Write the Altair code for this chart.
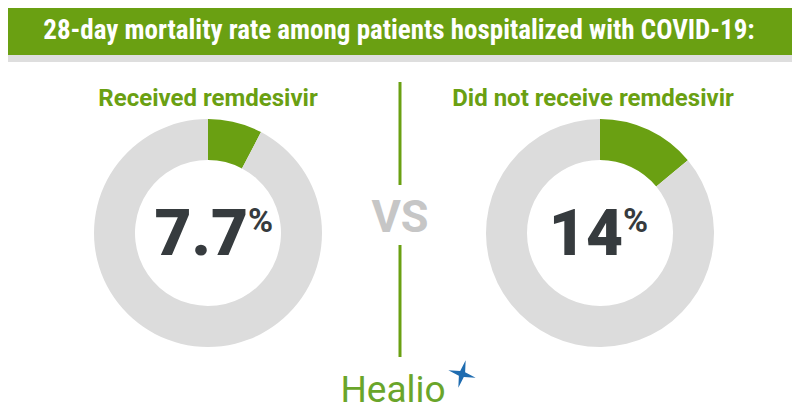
import altair as alt
import pandas as pd

# ---- data ----
header_text = ["28-day mortality rate among patients hospitalized with COVID-19:"]
groups = ["Received remdesivir", "Did not receive remdesivir"]
rates = [7.7, 14.0]
rate_labels = ["7.7", "14"]
parts = ["Died", "Survived"]
vs_label = ["VS"]
brand = ["Healio"]

# ---- layout (reference pixel coords, page margin 8px) ----
W, H = 784, 404
OFF = 8
def px(v):
    return v - OFF

centers_x = [208, 600]
center_y = 233
split_dx = [40, 23]
title_dx = [0, -7]

GREEN = "#6aa012"
RING = "#dcdcdc"
DARK = "#363b3e"
VSGRAY = "#c6c6c6"
BLUE = "#1f6cb0"

rows = []
for g, r in zip(groups, rates):
    rows.append({"group": g, "part": parts[0], "value": r, "ord": 0})
    rows.append({"group": g, "part": parts[1], "value": 100 - r, "ord": 1})
arc_df = pd.DataFrame(rows)

blank = alt.Data(values=[{}])
layers = []

# header band
layers.append(alt.Chart(blank).mark_rect(color=GREEN).encode(
    x=alt.value(0), x2=alt.value(W), y=alt.value(0), y2=alt.value(px(55))))
layers.append(alt.Chart(blank).mark_rect(color="#dedede").encode(
    x=alt.value(0), x2=alt.value(W), y=alt.value(px(55)), y2=alt.value(px(62))))
layers.append(alt.Chart(pd.DataFrame({"t": header_text})).mark_text(
    font="Roboto Condensed, Liberation Sans Narrow, DejaVu Sans Condensed, Roboto",
    fontWeight="bold", fontSize=27, color="white", align="center", baseline="alphabetic"
).encode(x=alt.value(px(399)), y=alt.value(px(39)), text="t:N"))

for i, g in enumerate(groups):
    cx = px(centers_x[i])
    cy = px(center_y)
    layers.append(alt.Chart(arc_df).transform_filter(alt.datum.group == g).mark_arc(
        innerRadius=73, outerRadius=114, stroke=None
    ).encode(
        x=alt.value(cx), y=alt.value(cy),
        theta=alt.Theta("value:Q", stack=True),
        order=alt.Order("ord:Q"),
        color=alt.Color("part:N", scale=alt.Scale(domain=parts, range=[GREEN, RING]), legend=None),
    ))
    layers.append(alt.Chart(pd.DataFrame({"t": [g]})).mark_text(
        font="Roboto", fontWeight="bold", fontSize=24, color=GREEN, align="center", baseline="alphabetic"
    ).encode(x=alt.value(cx + title_dx[i]), y=alt.value(px(106)), text="t:N"))
    layers.append(alt.Chart(pd.DataFrame({"t": [rate_labels[i]]})).mark_text(
        font="Roboto", fontWeight=900, fontSize=64, color=DARK, align="right", baseline="alphabetic"
    ).encode(x=alt.value(cx + split_dx[i]), y=alt.value(px(255)), text="t:N"))
    layers.append(alt.Chart(pd.DataFrame({"t": ["%"]})).mark_text(
        font="Roboto", fontWeight="bold", fontSize=34, color=DARK, align="left", baseline="alphabetic"
    ).encode(x=alt.value(cx + split_dx[i]), y=alt.value(px(232)), text="t:N"))

# divider and VS
for y1, y2 in [(82, 185), (245, 357)]:
    layers.append(alt.Chart(blank).mark_rule(color=GREEN, strokeWidth=3).encode(
        x=alt.value(px(400)), y=alt.value(px(y1)), y2=alt.value(px(y2))))
layers.append(alt.Chart(pd.DataFrame({"t": vs_label})).mark_text(
    font="Roboto", fontWeight="bold", fontSize=45, color=VSGRAY, align="center", baseline="alphabetic"
).encode(x=alt.value(px(400)), y=alt.value(px(232)), text="t:N"))

# logo
layers.append(alt.Chart(pd.DataFrame({"t": brand})).mark_text(
    font="Roboto", fontSize=37, color="#6aa52a", align="center", baseline="alphabetic"
).encode(x=alt.value(px(393)), y=alt.value(px(402)), text="t:N"))
star = "M0,-1 L0.18,-0.18 L1,0 L0.18,0.18 L0,1 L-0.18,0.18 L-1,0 L-0.18,-0.18 Z"
layers.append(alt.Chart(blank).mark_point(
    shape=star, filled=True, color=BLUE, size=800, opacity=1, angle=15
).encode(x=alt.value(px(462)), y=alt.value(px(374))))

chart = alt.layer(*layers).properties(
    width=W, height=H, padding=0, autosize=alt.AutoSizeParams(type="none")
).configure_view(stroke=None)

chart.save("out.html", embed_options={"renderer": "svg", "actions": False})
